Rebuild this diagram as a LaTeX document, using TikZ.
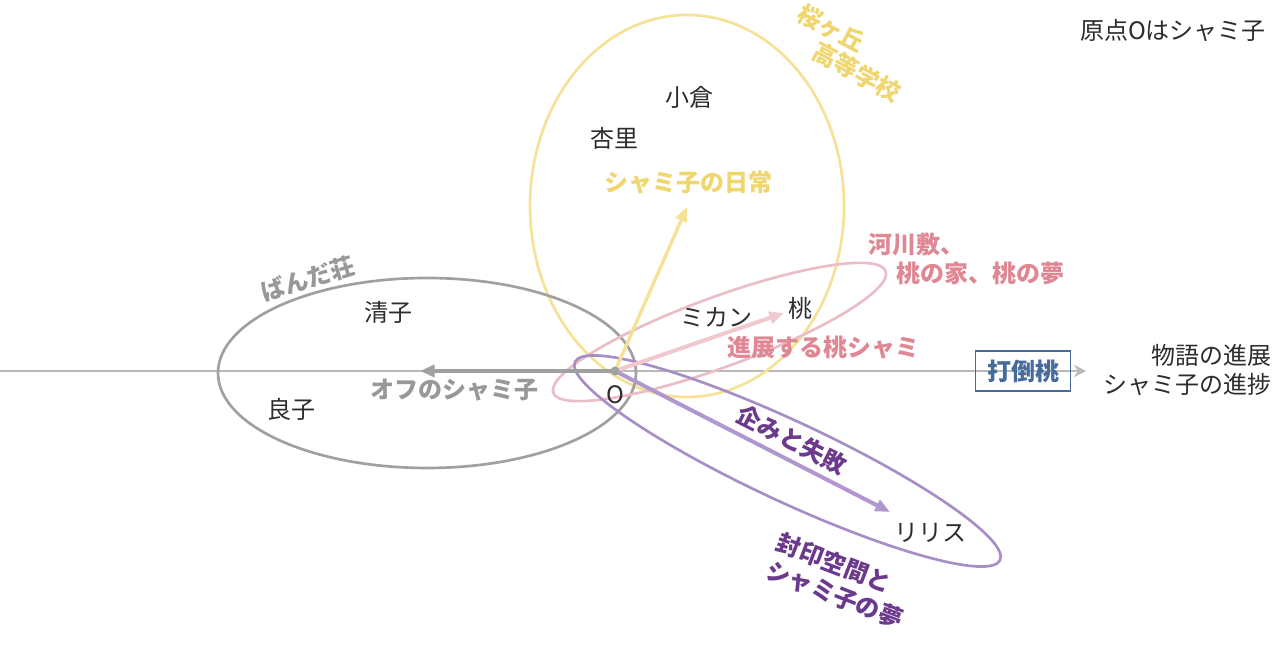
\documentclass[tikz,border=0pt]{standalone}
\usepackage{fontspec}
\setmainfont{Noto Sans CJK JP}
\usetikzlibrary{arrows.meta}
\definecolor{ink}{RGB}{45,45,45}
\definecolor{yelL}{RGB}{245,226,150}
\definecolor{yelT}{RGB}{240,214,110}
\definecolor{pinkL}{RGB}{234,190,198}
\definecolor{pinkA}{RGB}{240,200,205}
\definecolor{pinkT}{RGB}{224,135,148}
\definecolor{grayL}{RGB}{160,160,160}
\definecolor{grayT}{RGB}{152,152,152}
\definecolor{axisC}{RGB}{185,185,185}
\definecolor{purL}{RGB}{168,142,198}
\definecolor{purA}{RGB}{176,152,206}
\definecolor{purT}{RGB}{108,58,140}
\definecolor{blueT}{RGB}{70,108,158}
\begin{document}
\begin{tikzpicture}[x=0.75pt,y=0.75pt,
  font=\fontsize{18pt}{22pt}\selectfont,
  lbl/.style={text=ink, inner sep=0pt},
  blbl/.style={font=\fontsize{18pt}{22pt}\selectfont\bfseries, inner sep=0pt},
  ell/.style={line width=2pt},
  vec/.style={line width=3pt, -{Triangle[length=11pt,width=9pt]}}]
\useasboundingbox[fill=white] (0,0) rectangle (1280,670);
% named points
\coordinate (O) at (615,299);
\coordinate (axL) at (0,299);
\coordinate (axR) at (1086,299);
\coordinate (yTip) at (687,463);
\coordinate (pTip) at (784,357);
\coordinate (gTip) at (420,299);
\coordinate (vTip) at (890,158);
% axis
\draw[axisC, line width=1.2pt, -{Stealth[length=9pt,width=9pt,inset=3pt]}] (axL) -- (axR);
% ellipses
\draw[ell, yelL] (687,464) ellipse [x radius=157, y radius=191];
\draw[ell, grayL] (427,297) ellipse [x radius=209, y radius=95];
\draw[ell, pinkL] (719.5,338) ellipse [x radius=177, y radius=35, rotate=20.1];
\draw[ell, purL] (787.5,209) ellipse [x radius=234.5, y radius=40, rotate=-25];
% vectors
\draw[vec, yelL, line width=2.5pt] (O) -- (yTip);
\draw[vec, pinkA] (O) -- (pTip);
\draw[vec, grayL] (O) -- (gTip);
\draw[vec, purA] (O) -- (vTip);
\fill[grayL] (O) circle (4.5);
% labels
\node[lbl] (title) at (1173,639) {原点Oはシャミ子};
\node[blbl, text=yelT, rotate=-28] (sak1) at (831,642) {桜ヶ丘};
\node[blbl, text=yelT, rotate=-28] (sak2) at (857,598) {高等学校};
\node[lbl] (ogura) at (689,573) {小倉};
\node[lbl] (anri) at (614,532) {杏里};
\node[blbl, text=yelT] (nichijo) at (688,487) {シャミ子の日常};
\node[blbl, text=pinkT] (kasen1) at (916,426) {河川敷、};
\node[blbl, text=pinkT] (kasen2) at (980,397) {桃の家、桃の夢};
\node[lbl] (mikan) at (716,353) {ミカン};
\node[lbl] (momo) at (800,362) {桃};
\node[blbl, text=pinkT] (shinten) at (823,322) {進展する桃シャミ};
\node[blbl, text=grayT, rotate=17] (banda) at (308,391) {ばんだ荘};
\node[lbl] (kiyoko) at (388,358) {清子};
\node[lbl] (ryoko) at (291,261) {良子};
\node[blbl, text=grayT] (off) at (454,280) {オフのシャミ子};
\node[lbl] (olbl) at (615,275) {O};
\node[blbl, text=blueT, draw=blueT, line width=0.8pt, minimum width=95*0.75pt, minimum height=40*0.75pt] (datou) at (1023,299) {打倒桃};
\node[lbl, align=right, anchor=east] (prog) at (1272,300) {物語の進展\\シャミ子の進捗};
\node[blbl, text=purT, rotate=-27] (takurami) at (792,230) {企みと失敗};
\node[lbl] (lilith) at (930,137) {リリス};
\node[blbl, text=purT, rotate=-21, align=left] (fuuin) at (840,89) {封印空間と\\シャミ子の夢};
\end{tikzpicture}
\end{document}
